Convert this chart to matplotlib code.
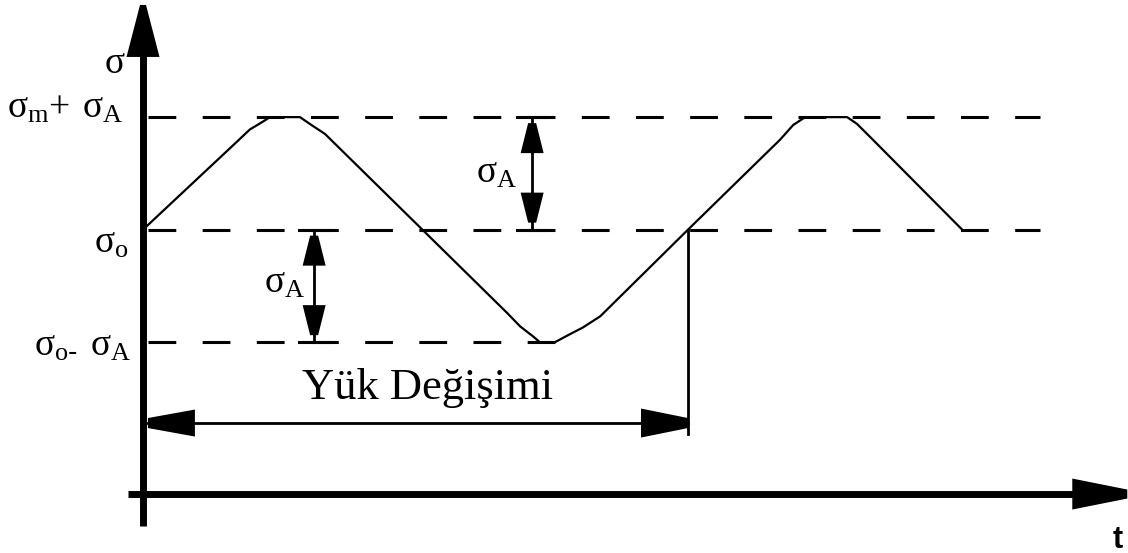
import matplotlib
matplotlib.use('Agg')
import matplotlib.pyplot as plt

plt.rcParams['font.family'] = ['Liberation Serif', 'DejaVu Serif']
plt.rcParams['lines.scale_dashes'] = False

# stress levels, in units of the amplitude sigma_A
sigma_o = 2.35
sigma_A = 1.0
sigma_top = sigma_o + sigma_A
sigma_bot = sigma_o - sigma_A

# one and a half load cycles (t in cycles)
wave_t = [0.0, 0.172, 0.196, 0.220, 0.233, 0.288, 0.306, 0.334, 0.668, 0.692,
          0.716, 0.728, 0.756, 0.783, 0.807, 0.839, 1.0, 1.169, 1.193, 1.215,
          1.292, 1.310, 1.339, 1.503]
wave_s = [2.35, 3.13, 3.24, 3.31, 3.35, 3.35, 3.29, 3.20, 1.61, 1.49,
          1.40, 1.35, 1.35, 1.42, 1.48, 1.58, 2.35, 3.15, 3.28, 3.35,
          3.35, 3.29, 3.15, 2.35]

level_start = 0.009
upper_end = 1.646
lower_end = 0.761
amp_up_t = 0.714      # sigma_A arrow above sigma_o
amp_down_t = 0.314    # sigma_A arrow below sigma_o
cycle_end = 1.0
load_arrow_s = 0.631
drop_end_s = 0.533

v_axis = (-0.28, 4.347)
h_axis = (-0.028, 1.806)

t_min, t_max = -0.2624, 1.8073
s_min, s_max = -0.524, 4.391
W, H = 1128, 553

fig = plt.figure(figsize=(W / 100, H / 100), dpi=100)
ax = fig.add_axes([0, 0, 1, 1])
ax.set_xlim(t_min, t_max)
ax.set_ylim(s_min, s_max)
ax.axis('off')

px_t = (t_max - t_min) / W
px_s = (s_max - s_min) / H


def pix(x, y):
    return t_min + x * px_t, s_max - y * px_s


def head(tip_t, tip_s, direction, length, base, tip=8):
    # blunt arrow head, sizes given in pixels
    dx, dy = direction
    qx, qy = -dy, dx
    corners = [(qx * tip / 2, qy * tip / 2),
               (-dx * length + qx * base / 2, -dy * length + qy * base / 2),
               (-dx * length - qx * base / 2, -dy * length - qy * base / 2),
               (-qx * tip / 2, -qy * tip / 2)]
    ax.fill([tip_t + cx * px_t for cx, cy in corners],
            [tip_s + cy * px_s for cx, cy in corners],
            color='black', lw=0, zorder=5)


k = 'black'

# axes
ax.plot([0, 0], [v_axis[0], v_axis[1] - 40 * px_s], color=k, lw=5, solid_capstyle='butt')
head(0, v_axis[1], (0, 1), 52, 33, 6)
ax.plot([h_axis[0], h_axis[1] - 40 * px_t], [0, 0], color=k, lw=5, solid_capstyle='butt')
head(h_axis[1], 0, (1, 0), 55, 31, 9)

# reference levels
dash = dict(color=k, lw=2.2, dashes=(20, 19), solid_capstyle='butt')
ax.plot([level_start, upper_end], [sigma_top, sigma_top], **dash)
ax.plot([level_start, upper_end], [sigma_o, sigma_o], **dash)
ax.plot([level_start, lower_end], [sigma_bot, sigma_bot], **dash)

# stress history
ax.plot(wave_t, wave_s, color=k, lw=1.6)

# amplitude arrows
for t, lo, hi in [(amp_up_t, sigma_o, sigma_top), (amp_down_t, sigma_bot, sigma_o)]:
    ax.plot([t, t], [lo, hi], color=k, lw=2)
    for lev in (lo, hi):
        ax.plot([t - 15 * px_t, t + 15 * px_t], [lev, lev], color=k, lw=2.2)
    head(t, hi - 6 * px_s, (0, 1), 30, 23, 8)
    head(t, lo + 7 * px_s, (0, -1), 30, 23, 8)

# one load cycle
ax.plot([cycle_end, cycle_end], [sigma_o, drop_end_s], color=k, lw=2)
ax.plot([level_start, cycle_end], [load_arrow_s, load_arrow_s], color=k, lw=2)
head(level_start, load_arrow_s, (-1, 0), 47, 27, 10)
head(cycle_end, load_arrow_s, (1, 0), 47, 29, 10)

# labels
fs = 27
ax.text(*pix(125, 73), 'σ', fontsize=fs, ha='right', va='baseline')
ax.text(*pix(123, 118), r'$\mathregular{σ_m{+}\ σ_A}$', fontsize=fs, ha='right', va='baseline')
ax.text(*pix(129, 253), r'$\mathregular{σ_o}$', fontsize=fs, ha='right', va='baseline')
ax.text(*pix(131, 356), r'$\mathregular{σ_{o\text{-}}\ σ_A}$', fontsize=fs, ha='right', va='baseline')
ax.text(*pix(476, 183), r'$\mathregular{σ_A}$', fontsize=fs, ha='left', va='baseline')
ax.text(*pix(264, 293), r'$\mathregular{σ_A}$', fontsize=fs, ha='left', va='baseline')
ax.text(*pix(428, 399), 'Yük Değişimi', fontsize=32, ha='center', va='baseline')
ax.text(*pix(1123, 548), 't', fontsize=22, fontweight='bold',
        family=['Liberation Sans', 'DejaVu Sans'], ha='right', va='baseline')

fig.savefig('out.png', dpi=100)
